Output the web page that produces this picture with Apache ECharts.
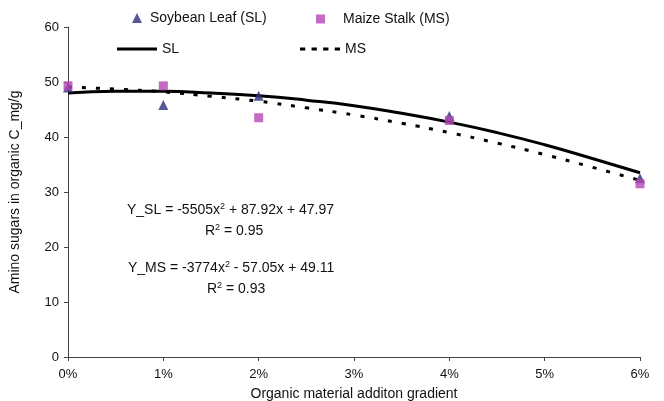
<!DOCTYPE html>
<html>
<head>
<meta charset="utf-8">
<script src="https://cdn.jsdelivr.net/npm/echarts@6/dist/echarts.min.js"></script>
<style>html,body{margin:0;padding:0;background:#fff}#c{width:664px;height:401px}</style>
</head>
<body>
<div id="c"></div>
<script>
// observed data (x as fraction of organic material addition)
var xObs = [0, 0.01, 0.02, 0.04, 0.06];
var slObs = [49.0, 45.8, 47.5, 43.8, 32.5];
var msObs = [49.3, 49.3, 43.5, 43.0, 31.5];
// trend lines at 0.5% steps
var xTrend = [0, 0.005, 0.01, 0.015, 0.02, 0.025, 0.03, 0.035, 0.04, 0.045, 0.05, 0.055, 0.06];
var slTrend = [48.0, 48.3, 48.3, 48.0, 47.5, 46.7, 45.7, 44.3, 42.7, 40.8, 38.6, 36.1, 33.5];
var msTrend = [49.1, 48.7, 48.2, 47.4, 46.5, 45.3, 44.0, 42.5, 40.8, 38.9, 36.8, 34.5, 32.1];
var xTicks = ['0%', '1%', '2%', '3%', '4%', '5%', '6%'];
var eqSL = 'Y_SL = -5505x{sup|2} + 87.92x + 47.97';
var r2SL = 'R{sup|2} = 0.95';
var eqMS = 'Y_MS = -3774x{sup|2} - 57.05x + 49.11';
var r2MS = 'R{sup|2} = 0.93';

function zip(xs, ys) { return xs.map(function (x, i) { return [x, ys[i]]; }); }

var FONT = 'Liberation Sans, Arial, sans-serif';
var TRI = '#2E2E7E', SQ = '#B545B5';
var rich = { sup: { fontSize: 9, verticalAlign: 'top', padding: [0, 0, 7, 0], fontFamily: FONT, fill: '#111' } };
var DASH_ICON = 'path://M0,0h5v3h-5z M11,0h5v3h-5z M22,0h5v3h-5z M33,0h5v3h-5z';

var chart = echarts.init(document.getElementById('c'));
function legText(pad) { return { fontFamily: FONT, fontSize: 14, color: '#111', padding: [0, 0, 0, pad] }; }
chart.setOption({
  animation: false,
  grid: { left: 68, right: 24, top: 27, bottom: 44, containLabel: false, outerBoundsMode: 'none' },
  legend: [
    { data: [{ name: 'Soybean Leaf (SL)', icon: 'triangle' }], left: 132, top: 11, itemWidth: 10, itemHeight: 10, textStyle: legText(3), padding: 0 },
    { data: [{ name: 'Maize Stalk (MS)', icon: 'rect' }], left: 316, top: 12, itemWidth: 9, itemHeight: 9, textStyle: legText(13), padding: 0 },
    { data: [{ name: 'SL', icon: 'rect' }], left: 117, top: 42, itemWidth: 40, itemHeight: 3, textStyle: legText(0), padding: 0, symbolKeepAspect: false },
    { data: [{ name: 'MS', icon: DASH_ICON }], left: 300, top: 42, itemWidth: 40, itemHeight: 3, textStyle: legText(0), padding: 0, symbolKeepAspect: false }
  ],
  xAxis: {
    type: 'value', min: 0, max: 0.06, interval: 0.01,
    name: 'Organic material additon gradient', nameLocation: 'middle', nameGap: 30,
    nameTextStyle: { fontFamily: FONT, fontSize: 14, color: '#111' },
    axisLine: { lineStyle: { color: '#444', width: 1 } },
    axisTick: { show: true, length: 4, lineStyle: { color: '#444' } },
    axisLabel: { fontFamily: FONT, fontSize: 13, color: '#111', margin: 11,
      formatter: function (v) { return xTicks[Math.round(v * 100)]; } },
    splitLine: { show: false }
  },
  yAxis: {
    type: 'value', min: 0, max: 60, interval: 10,
    name: 'Amino sugars in organic C_mg/g', nameLocation: 'middle', nameGap: 46, nameRotate: 90,
    nameTextStyle: { fontFamily: FONT, fontSize: 14, color: '#111' },
    axisLine: { show: true, lineStyle: { color: '#444', width: 1 } },
    axisTick: { show: true, length: 4, lineStyle: { color: '#444' } },
    axisLabel: { fontFamily: FONT, fontSize: 13, color: '#111', margin: 9 },
    splitLine: { show: false }
  },
  series: [
    { name: 'SL', type: 'line', data: zip(xTrend, slTrend), smooth: true, symbol: 'none',
      lineStyle: { color: '#000', width: 3 }, itemStyle: { color: '#000' }, z: 2 },
    { name: 'MS', type: 'line', data: zip(xTrend, msTrend), smooth: true, symbol: 'none',
      lineStyle: { color: '#000', width: 3, type: [4, 10] }, itemStyle: { color: '#000' }, z: 2 },
    { name: 'Soybean Leaf (SL)', type: 'scatter', data: zip(xObs, slObs), symbol: 'triangle', symbolSize: 10,
      itemStyle: { color: TRI }, z: 3 },
    { name: 'Maize Stalk (MS)', type: 'scatter', data: zip(xObs, msObs), symbol: 'rect', symbolSize: 9,
      itemStyle: { color: SQ }, z: 4 }
  ],
  graphic: [
    { type: 'text', left: 127, top: 202, style: { text: eqSL, rich: rich, font: '14px ' + FONT, fill: '#111' } },
    { type: 'text', left: 205, top: 223, style: { text: r2SL, rich: rich, font: '14px ' + FONT, fill: '#111' } },
    { type: 'text', left: 128, top: 260, style: { text: eqMS, rich: rich, font: '14px ' + FONT, fill: '#111' } },
    { type: 'text', left: 207, top: 281, style: { text: r2MS, rich: rich, font: '14px ' + FONT, fill: '#111' } }
  ]
});
</script>
</body>
</html>
